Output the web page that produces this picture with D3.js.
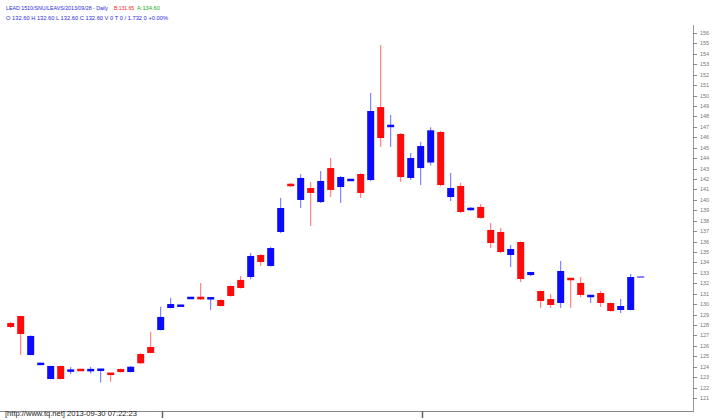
<!DOCTYPE html>
<html lang="en">
<head>
  <meta charset="UTF-8">
  <title>LEAD daily candles</title>
  <script src="https://d3js.org/d3.v7.min.js"></script>
  <style>
    body { margin: 0; background: #fff; }
    .hdr { font: 6px "Liberation Sans", Arial, sans-serif; }
    .hdr.small { font-size: 5px; }
    .tick-label { font: 5.5px "Liberation Sans", Arial, sans-serif; fill: #777; }
    .foot { font: 8px "Liberation Sans Narrow", "Liberation Sans", Arial, sans-serif; fill: #222; }
  </style>
</head>
<body>
  <svg id="chart" width="713" height="420"></svg>
  <script>
    const width = 713;
    const height = 420;

    // daily bars, oldest first
    const opens = [128.19, 128.86, 125.12, 124.24, 122.82, 124.07, 123.60, 123.72, 123.65, 123.68,
      123.36, 123.78, 123.49, 125.22, 125.89, 127.52, 129.63, 129.82, 130.56, 130.71,
      130.53, 130.40, 131.74, 132.32, 132.60, 134.71, 133.66, 136.92, 141.52, 139.99,
      141.14, 139.79, 143.05, 141.23, 141.86, 142.48, 141.90, 148.90, 147.05, 146.32,
      142.10, 143.05, 143.58, 146.51, 140.27, 141.33, 139.03, 139.32, 137.11, 136.92,
      134.71, 135.96, 132.79, 131.26, 130.49, 130.11, 132.46, 132.03, 130.68, 131.07,
      130.11, 129.44, 129.44, 132.60];
    const highs = [128.30, 128.90, 127.00, 124.30, 124.10, 124.10, 123.97, 123.75, 124.00, 123.80,
      123.40, 123.82, 124.05, 125.30, 127.36, 129.75, 130.59, 129.90, 130.65, 132.03,
      130.65, 130.45, 131.80, 132.70, 134.90, 134.80, 135.50, 140.18, 141.60, 142.48,
      141.71, 142.77, 144.01, 142.30, 142.00, 142.55, 150.25, 154.85, 148.14, 146.40,
      144.49, 145.55, 146.96, 146.60, 142.58, 141.62, 139.30, 139.61, 137.78, 137.30,
      135.67, 136.00, 133.10, 131.30, 130.97, 134.14, 132.50, 132.60, 130.90, 131.26,
      130.15, 130.49, 132.89, 132.60];
    const lows = [127.70, 125.12, 125.10, 124.20, 122.80, 122.80, 123.30, 123.60, 123.35, 122.47,
      122.56, 123.45, 123.45, 124.28, 125.28, 127.48, 129.60, 129.80, 130.52, 130.40,
      129.44, 129.78, 130.72, 131.50, 132.40, 133.66, 133.60, 136.80, 141.25, 139.22,
      137.49, 139.70, 140.27, 139.70, 141.80, 140.18, 141.80, 145.07, 145.07, 141.71,
      141.90, 141.42, 143.29, 141.30, 139.89, 138.75, 138.95, 138.20, 135.38, 134.90,
      133.56, 132.12, 132.70, 129.63, 129.63, 129.63, 129.63, 130.68, 130.11, 129.73,
      129.30, 129.15, 129.40, 132.60];
    const closes = [127.81, 127.14, 126.95, 124.30, 124.07, 122.82, 123.65, 123.65, 123.70, 123.74,
      123.28, 123.49, 124.00, 124.33, 125.32, 128.77, 130.01, 129.88, 130.62, 130.46,
      130.59, 129.82, 130.78, 131.55, 134.62, 134.04, 135.38, 139.22, 141.33, 142.10,
      140.66, 141.81, 140.95, 142.19, 141.95, 140.66, 148.52, 145.93, 147.12, 142.19,
      144.01, 145.16, 146.67, 141.42, 141.14, 138.84, 139.22, 138.27, 135.86, 135.00,
      135.29, 132.41, 133.08, 130.30, 129.92, 133.18, 132.36, 130.88, 130.88, 130.11,
      129.34, 129.82, 132.60, 132.60];

    const priceTicks = d3.range(121, 157);   // 121 .. 156
    const monthMarks = [15, 41];              // bar index where a new month starts

    const bars = opens.map((o, i) => ({ i, o, h: highs[i], l: lows[i], c: closes[i] }));

    const svg = d3.select('#chart');

    const x = d3.scalePoint()
      .domain(d3.range(bars.length))
      .range([10.7, 640.7]);

    const y = d3.scaleLinear()
      .domain([121, 156])
      .range([398, 33]);

    const BODY_W = 7;
    const axisX = 693;
    const baseY = 411;

    // header, first line: one text with coloured runs
    const hdr1 = svg.append('text').attr('class', 'hdr small').attr('y', 10);
    hdr1.append('tspan').attr('x', 6).attr('fill', '#2a2ae0')
      .attr('textLength', 102).attr('lengthAdjust', 'spacingAndGlyphs')
      .text('LEAD 1510/SNU/LEAVS/2013/09/28 - Daily');
    hdr1.append('tspan').attr('x', 114).attr('fill', '#ee2020')
      .attr('textLength', 20).attr('lengthAdjust', 'spacingAndGlyphs')
      .text('B:131.65');
    hdr1.append('tspan').attr('x', 137).attr('fill', '#20b020')
      .attr('textLength', 23).attr('lengthAdjust', 'spacingAndGlyphs')
      .text('A:134.60');
    svg.append('text').attr('class', 'hdr').attr('x', 6).attr('y', 20).attr('fill', '#2a2ae0')
      .attr('textLength', 162).attr('lengthAdjust', 'spacingAndGlyphs')
      .text('O 132.60  H 132.60  L 132.60  C 132.60  V 0  T 0 / 1.732  0  +0.00%');

    // right price axis
    svg.append('line')
      .attr('x1', axisX + 0.5).attr('x2', axisX + 0.5)
      .attr('y1', 25).attr('y2', baseY)
      .attr('stroke', '#999');

    const yt = svg.append('g').selectAll('g')
      .data(priceTicks)
      .enter().append('g')
      .attr('transform', d => `translate(0,${Math.round(y(d)) + 0.5})`);
    yt.append('line')
      .attr('x1', axisX).attr('x2', axisX + 4)
      .attr('stroke', '#888');
    yt.append('text')
      .attr('class', 'tick-label')
      .attr('x', 700).attr('dy', '0.35em')
      .text(d => d);

    // bottom time axis
    svg.append('line')
      .attr('x1', 0).attr('x2', axisX + 1)
      .attr('y1', baseY + 0.5).attr('y2', baseY + 0.5)
      .attr('stroke', '#888');
    svg.append('g').selectAll('line')
      .data(monthMarks)
      .enter().append('line')
      .attr('x1', d => Math.round(x(d)) + 1.5).attr('x2', d => Math.round(x(d)) + 1.5)
      .attr('y1', baseY).attr('y2', baseY + 7)
      .attr('stroke', '#666')
      .attr('stroke-width', 1.5);

    svg.append('text')
      .attr('class', 'foot')
      .attr('x', 5).attr('y', 416)
      .attr('textLength', 132).attr('lengthAdjust', 'spacingAndGlyphs')
      .text('[http://www.tq.net] 2013-09-30 07:22:23');

    // candles
    const colour = d => (d.c >= d.o ? '#0a0aff' : '#ff0a0a');

    const candle = svg.append('g').selectAll('g')
      .data(bars)
      .enter().append('g');

    candle.append('line')
      .attr('x1', d => x(d.i)).attr('x2', d => x(d.i))
      .attr('y1', d => y(d.h)).attr('y2', d => y(d.l))
      .attr('stroke', colour)
      .attr('stroke-opacity', 0.6)
      .attr('stroke-width', 1);

    candle.filter(d => d.o !== d.c).append('rect')
      .attr('x', d => x(d.i) - BODY_W / 2)
      .attr('width', BODY_W)
      .attr('y', d => {
        const top = y(Math.max(d.o, d.c));
        const hgt = Math.abs(y(d.o) - y(d.c));
        return hgt < 2.5 ? (top + hgt / 2) - 1.25 : top;
      })
      .attr('height', d => Math.max(2.5, Math.abs(y(d.o) - y(d.c))))
      .attr('fill', colour);

    // plain doji: a single stroke
    candle.filter(d => d.o === d.c).append('line')
      .attr('x1', d => x(d.i) - BODY_W / 2).attr('x2', d => x(d.i) + BODY_W / 2)
      .attr('y1', d => y(d.c)).attr('y2', d => y(d.c))
      .attr('stroke', colour)
      .attr('stroke-width', 1);
  </script>
</body>
</html>
